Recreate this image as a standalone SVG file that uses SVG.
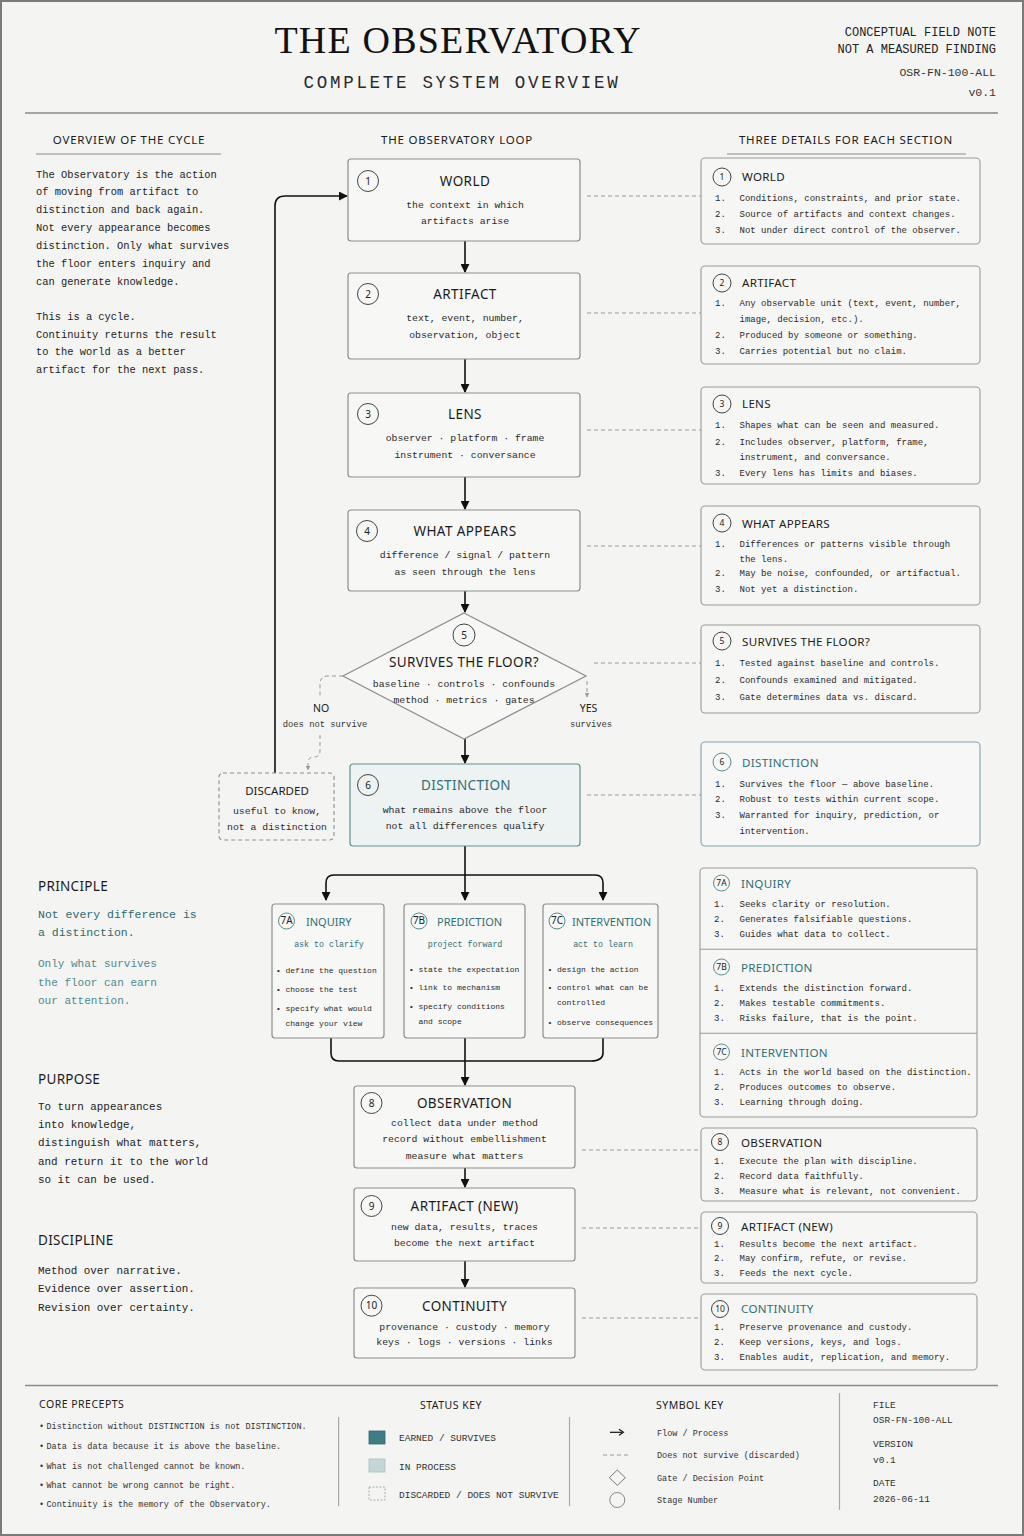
<svg xmlns="http://www.w3.org/2000/svg" width="1024" height="1536" viewBox="0 0 1024 1536">
<defs>
<style>
.sans{font-family:"Noto Sans","DejaVu Sans",sans-serif;}
.mono{font-family:"Liberation Mono","DejaVu Sans Mono",monospace;}
.box{fill:#f7f7f5;stroke:#8d8d8d;stroke-width:1.2;}
.dbox{fill:#edf2f2;stroke:#5f9196;stroke-width:1.2;}
.pbox{fill:#f6f6f4;stroke:#9a9a9a;stroke-width:1.1;}
.ntitle{font-family:"Noto Sans","DejaVu Sans",sans-serif;font-size:13.5px;letter-spacing:0.4px;fill:#1b1b1b;text-anchor:middle;}
.nsub{font-family:"Liberation Mono","DejaVu Sans Mono",monospace;font-size:9.8px;fill:#2a2a2a;text-anchor:middle;}
.ncirc{fill:none;stroke:#444;stroke-width:1;}
.nnum{font-family:"Noto Sans","DejaVu Sans",sans-serif;font-size:10px;fill:#222;text-anchor:middle;}
.ptitle{font-family:"Noto Sans","DejaVu Sans",sans-serif;font-size:11.6px;letter-spacing:0.3px;fill:#1b1b1b;}
.pli{font-family:"Liberation Mono","DejaVu Sans Mono",monospace;font-size:9px;fill:#2a2a2a;}
.pnum{font-family:"Noto Sans","DejaVu Sans",sans-serif;font-size:8.5px;fill:#222;text-anchor:middle;}
.teal{fill:#2f6f76;}
.tealc{fill:none;stroke:#5a8c91;stroke-width:1;}
.flow{fill:none;stroke:#111;stroke-width:1.6;}
.dash{fill:none;stroke:#9a9a9a;stroke-width:1;stroke-dasharray:4 3;}
.body{font-family:"Liberation Mono","DejaVu Sans Mono",monospace;font-size:10.4px;fill:#222;}
.hdr{font-family:"Noto Sans","DejaVu Sans",sans-serif;font-size:11.5px;letter-spacing:0.8px;fill:#1b1b1b;}
.lh{font-family:"Noto Sans","DejaVu Sans",sans-serif;font-size:13.5px;letter-spacing:0.3px;fill:#1b1b1b;}
.lbody{font-family:"Liberation Mono","DejaVu Sans Mono",monospace;font-size:10.9px;fill:#222;}
.b7{font-family:"Liberation Mono","DejaVu Sans Mono",monospace;font-size:8px;fill:#2a2a2a;}
.t7{font-family:"Noto Sans","DejaVu Sans",sans-serif;font-size:11px;fill:#2f6f76;}
.s7{font-family:"Liberation Mono","DejaVu Sans Mono",monospace;font-size:8.3px;fill:#2f6f76;text-anchor:middle;}
.fhdr{font-family:"Noto Sans","DejaVu Sans",sans-serif;font-size:10.5px;letter-spacing:0.5px;fill:#1b1b1b;}
.fsm{font-family:"Liberation Mono","DejaVu Sans Mono",monospace;font-size:8.5px;fill:#333;}
.fkey{font-family:"Liberation Mono","DejaVu Sans Mono",monospace;font-size:9.5px;fill:#333;}
.sep{stroke:#a8a8a8;stroke-width:1.2;}
</style>
<marker id="ah" viewBox="0 0 10 10" refX="9" refY="5" markerWidth="9" markerHeight="9" markerUnits="userSpaceOnUse" orient="auto"><path d="M0,0 L10,5 L0,10 z" fill="#111"/></marker>
<marker id="ahg" viewBox="0 0 10 10" refX="9" refY="5" markerWidth="5" markerHeight="5" markerUnits="userSpaceOnUse" orient="auto"><path d="M0,0 L10,5 L0,10 z" fill="#999"/></marker>
</defs>

<rect x="0" y="0" width="1024" height="1536" fill="#f4f4f2"/>
<rect x="1" y="1" width="1022" height="1534" fill="none" stroke="#7a7a7a" stroke-width="2"/>

<g id="header">
<text x="458" y="53" font-family="Liberation Serif,serif" font-size="38" letter-spacing="1.2" text-anchor="middle" fill="#111">THE OBSERVATORY</text>
<text x="462" y="88" class="mono" font-size="17.5" letter-spacing="2.7" text-anchor="middle" fill="#2a2a2a">COMPLETE SYSTEM OVERVIEW</text>
<text x="996" y="36" class="mono" font-size="12" text-anchor="end" fill="#222">CONCEPTUAL FIELD NOTE</text>
<text x="996" y="53" class="mono" font-size="12" text-anchor="end" fill="#222">NOT A MEASURED FINDING</text>
<text x="996" y="76" class="mono" font-size="11.5" text-anchor="end" fill="#333">OSR-FN-100-ALL</text>
<text x="996" y="96" class="mono" font-size="11.5" text-anchor="end" fill="#333">v0.1</text>
<line x1="25" y1="113" x2="998" y2="113" stroke="#8a8a8a" stroke-width="1.5"/>
<text x="129" y="144" class="hdr" text-anchor="middle">OVERVIEW OF THE CYCLE</text>
<line x1="36" y1="154" x2="221" y2="154" stroke="#8a8a8a" stroke-width="1.2"/>
<text x="457" y="144" class="hdr" text-anchor="middle">THE OBSERVATORY LOOP</text>
<text x="846" y="144" class="hdr" text-anchor="middle">THREE DETAILS FOR EACH SECTION</text>
<line x1="727" y1="154" x2="966" y2="154" stroke="#8a8a8a" stroke-width="1.2"/>
</g>

<g id="overview-text">
<text class="body" x="36" y="177.5">The Observatory is the action</text>
<text class="body" x="36" y="195.2">of moving from artifact to</text>
<text class="body" x="36" y="213">distinction and back again.</text>
<text class="body" x="36" y="231">Not every appearance becomes</text>
<text class="body" x="36" y="249">distinction. Only what survives</text>
<text class="body" x="36" y="267">the floor enters inquiry and</text>
<text class="body" x="36" y="285">can generate knowledge.</text>
<text class="body" x="36" y="320">This is a cycle.</text>
<text class="body" x="36" y="337.5">Continuity returns the result</text>
<text class="body" x="36" y="355">to the world as a better</text>
<text class="body" x="36" y="372.5">artifact for the next pass.</text>
</g>

<g id="left-notes">
<text class="lh" x="38" y="890.5">PRINCIPLE</text>
<text class="mono" x="38" y="917.7" font-size="11.5" fill="#2d6a70">Not every difference is</text>
<text class="mono" x="38" y="936" font-size="11.5" fill="#2d6a70">a distinction.</text>
<text class="mono" x="38" y="967.3" font-size="11" fill="#4d8a90">Only what survives</text>
<text class="mono" x="38" y="985.7" font-size="11" fill="#4d8a90">the floor can earn</text>
<text class="mono" x="38" y="1004" font-size="11" fill="#4d8a90">our attention.</text>
<text class="lh" x="38" y="1083.5">PURPOSE</text>
<text class="lbody" x="38" y="1109.5">To turn appearances</text>
<text class="lbody" x="38" y="1128">into knowledge,</text>
<text class="lbody" x="38" y="1146">distinguish what matters,</text>
<text class="lbody" x="38" y="1164.5">and return it to the world</text>
<text class="lbody" x="38" y="1183">so it can be used.</text>
<text class="lh" x="38" y="1245">DISCIPLINE</text>
<text class="lbody" x="38" y="1274">Method over narrative.</text>
<text class="lbody" x="38" y="1292">Evidence over assertion.</text>
<text class="lbody" x="38" y="1310.5">Revision over certainty.</text>
</g>

<g id="connectors">
<path class="flow" d="M465,241 V272" marker-end="url(#ah)"/>
<path class="flow" d="M465,359 V392" marker-end="url(#ah)"/>
<path class="flow" d="M465,477 V509" marker-end="url(#ah)"/>
<path class="flow" d="M465,591 V612" marker-end="url(#ah)"/>
<path class="flow" d="M465,739 V763" marker-end="url(#ah)"/>
<path class="flow" d="M465,846 V900" marker-end="url(#ah)"/>
<path class="flow" d="M465,875 H334 Q326,875 326,883 V900" marker-end="url(#ah)"/>
<path class="flow" d="M465,875 H595 Q603,875 603,883 V900" marker-end="url(#ah)"/>
<path class="flow" d="M331,1038 V1053 Q331,1061 339,1061 H591 Q603,1061 603,1053 V1038"/>
<path class="flow" d="M465,1038 V1085" marker-end="url(#ah)"/>
<path class="flow" d="M465,1168 V1187" marker-end="url(#ah)"/>
<path class="flow" d="M465,1261 V1287" marker-end="url(#ah)"/>
<path class="flow" d="M275,773 V206 Q275,196 285,196 H347" marker-end="url(#ah)"/>
<path class="dash" d="M343,676 H328 Q320,676 320,684 V697"/>
<path class="dash" d="M320,735 V751 Q320,757 314,757 Q308,757 308,763 V770" marker-end="url(#ahg)"/>
<path class="dash" d="M587,681 V697" marker-end="url(#ahg)"/>
<path class="dash" d="M587,196 H701"/>
<path class="dash" d="M587,313 H701"/>
<path class="dash" d="M587,430 H701"/>
<path class="dash" d="M587,546 H701"/>
<path class="dash" d="M594,663 H701"/>
<path class="dash" d="M587,795 H701"/>
<path class="dash" d="M582,1150 H701"/>
<path class="dash" d="M582,1228 H701"/>
<path class="dash" d="M582,1318 H701"/>
<text class="sans" x="321" y="712" font-size="10.5" text-anchor="middle" fill="#1b1b1b">NO</text>
<text class="mono" x="325" y="726.5" font-size="8.8" text-anchor="middle" fill="#333">does not survive</text>
<text class="sans" x="588.5" y="712" font-size="10.5" text-anchor="middle" fill="#1b1b1b">YES</text>
<text class="mono" x="591" y="726.5" font-size="8.8" text-anchor="middle" fill="#333">survives</text>
</g>

<g id="n1-world">
<rect class="box" x="348" y="159" width="232" height="82" rx="3"/>
<circle class="ncirc" cx="368" cy="181" r="10.5"/><text class="nnum" x="368" y="184.5">1</text>
<text class="ntitle" x="465" y="186">WORLD</text>
<text class="nsub" x="465" y="207.5">the context in which</text>
<text class="nsub" x="465" y="224">artifacts arise</text>
</g>
<g id="n2-artifact">
<rect class="box" x="348" y="273" width="232" height="86" rx="3"/>
<circle class="ncirc" cx="368" cy="294" r="10.5"/><text class="nnum" x="368" y="297.5">2</text>
<text class="ntitle" x="465" y="299">ARTIFACT</text>
<text class="nsub" x="465" y="321">text, event, number,</text>
<text class="nsub" x="465" y="337.5">observation, object</text>
</g>
<g id="n3-lens">
<rect class="box" x="348" y="393" width="232" height="84" rx="3"/>
<circle class="ncirc" cx="368" cy="414" r="10.5"/><text class="nnum" x="368" y="417.5">3</text>
<text class="ntitle" x="465" y="419">LENS</text>
<text class="nsub" x="465" y="441">observer · platform · frame</text>
<text class="nsub" x="465" y="457.5">instrument · conversance</text>
</g>
<g id="n4-what-appears">
<rect class="box" x="348" y="510" width="232" height="81" rx="3"/>
<circle class="ncirc" cx="367" cy="531" r="10.5"/><text class="nnum" x="367" y="534.5">4</text>
<text class="ntitle" x="465" y="536">WHAT APPEARS</text>
<text class="nsub" x="465" y="558">difference / signal / pattern</text>
<text class="nsub" x="465" y="574.5">as seen through the lens</text>
</g>
<g id="n5-gate">
<polygon points="464,613 586,676 464,739 343,676" fill="#f7f7f5" stroke="#8d8d8d" stroke-width="1.2"/>
<circle class="ncirc" cx="464" cy="635" r="11"/><text class="nnum" x="464" y="638.5">5</text>
<text class="ntitle" x="464" y="667" font-size="12.5" letter-spacing="0.8">SURVIVES THE FLOOR?</text>
<text class="nsub" x="464" y="687" font-size="9">baseline · controls · confounds</text>
<text class="nsub" x="464" y="703" font-size="9">method · metrics · gates</text>
</g>
<g id="n6-distinction">
<rect class="dbox" x="350" y="764" width="230" height="82" rx="3"/>
<circle class="ncirc" cx="368" cy="785" r="10.5"/><text class="nnum" x="368" y="788.5">6</text>
<text class="ntitle teal" x="466" y="790">DISTINCTION</text>
<text class="nsub" x="465" y="812.5">what remains above the floor</text>
<text class="nsub" x="465" y="829">not all differences qualify</text>
</g>
<g id="discarded">
<rect x="219" y="773" width="115" height="67" rx="4" fill="#f4f4f2" stroke="#8d8d8d" stroke-width="1.1" stroke-dasharray="4 3"/>
<text class="sans" x="277" y="795" font-size="11.5" text-anchor="middle" fill="#1b1b1b">DISCARDED</text>
<text class="nsub" x="277" y="813.5">useful to know,</text>
<text class="nsub" x="277" y="829.5">not a distinction</text>
</g>

<g id="n7a-inquiry">
<rect class="box" x="272" y="904" width="112" height="134" rx="3"/>
<circle class="tealc" cx="286.5" cy="921" r="8"/><text class="nnum" x="286.5" y="923.6" font-size="7" fill="#2f6f76">7A</text>
<text class="t7" x="306" y="925.5">INQUIRY</text>
<text class="s7" x="329" y="947">ask to clarify</text>
<text class="b7" x="276" y="972.5">•</text><text class="b7" x="285.5" y="972.5">define the question</text>
<text class="b7" x="276" y="991.5">•</text><text class="b7" x="285.5" y="991.5">choose the test</text>
<text class="b7" x="276" y="1011">•</text><text class="b7" x="285.5" y="1011">specify what would</text>
<text class="b7" x="285.5" y="1026">change your view</text>
</g>
<g id="n7b-prediction">
<rect class="box" x="404" y="904" width="121" height="134" rx="3"/>
<circle class="tealc" cx="419" cy="921" r="8"/><text class="nnum" x="419" y="923.6" font-size="7" fill="#2f6f76">7B</text>
<text class="t7" x="437" y="925.5">PREDICTION</text>
<text class="s7" x="465" y="947">project forward</text>
<text class="b7" x="409" y="972">•</text><text class="b7" x="418.5" y="972">state the expectation</text>
<text class="b7" x="409" y="990">•</text><text class="b7" x="418.5" y="990">link to mechanism</text>
<text class="b7" x="409" y="1009">•</text><text class="b7" x="418.5" y="1009">specify conditions</text>
<text class="b7" x="418.5" y="1024">and scope</text>
</g>
<g id="n7c-intervention">
<rect class="box" x="543" y="904" width="115" height="134" rx="3"/>
<circle class="tealc" cx="557" cy="921" r="8"/><text class="nnum" x="557" y="923.6" font-size="7" fill="#2f6f76">7C</text>
<text class="t7" x="572" y="925.5">INTERVENTION</text>
<text class="s7" x="603" y="947">act to learn</text>
<text class="b7" x="547.5" y="972">•</text><text class="b7" x="557" y="972">design the action</text>
<text class="b7" x="547.5" y="990">•</text><text class="b7" x="557" y="990">control what can be</text>
<text class="b7" x="557" y="1005">controlled</text>
<text class="b7" x="547.5" y="1025">•</text><text class="b7" x="557" y="1025">observe consequences</text>
</g>

<g id="n8-observation">
<rect class="box" x="354" y="1086" width="221" height="82" rx="3"/>
<circle class="ncirc" cx="371.5" cy="1103" r="10.5"/><text class="nnum" x="371.5" y="1106.5">8</text>
<text class="ntitle" x="464.5" y="1108">OBSERVATION</text>
<text class="nsub" x="464.5" y="1126" font-size="9.4">collect data under method</text>
<text class="nsub" x="464.5" y="1142" font-size="9.4">record without embellishment</text>
<text class="nsub" x="464.5" y="1158.5" font-size="9.4">measure what matters</text>
</g>
<g id="n9-artifact-new">
<rect class="box" x="354" y="1188" width="221" height="73" rx="3"/>
<circle class="ncirc" cx="371.5" cy="1206" r="10.5"/><text class="nnum" x="371.5" y="1209.5">9</text>
<text class="ntitle" x="464.5" y="1211">ARTIFACT (NEW)</text>
<text class="nsub" x="464.5" y="1230.3" font-size="9.4">new data, results, traces</text>
<text class="nsub" x="464.5" y="1246.3" font-size="9.4">become the next artifact</text>
</g>
<g id="n10-continuity">
<rect class="box" x="354" y="1288" width="221" height="70" rx="3"/>
<circle class="ncirc" cx="371.5" cy="1305.7" r="10.5"/><text class="nnum" x="371.5" y="1309" font-size="9">10</text>
<text class="ntitle" x="464.5" y="1310.7">CONTINUITY</text>
<text class="nsub" x="464.5" y="1330" font-size="9.4">provenance · custody · memory</text>
<text class="nsub" x="464.5" y="1345.3" font-size="9.4">keys · logs · versions · links</text>
</g>

<g id="p1-world">
<rect class="pbox" x="701" y="158" width="279" height="86" rx="4"/>
<circle class="ncirc" cx="722" cy="177" r="9"/><text class="pnum" x="722" y="180">1</text>
<text class="ptitle" x="742" y="181">WORLD</text>
<text class="pli" x="715" y="200.5">1.</text><text class="pli" x="739.5" y="200.5">Conditions, constraints, and prior state.</text>
<text class="pli" x="715" y="216.5">2.</text><text class="pli" x="739.5" y="216.5">Source of artifacts and context changes.</text>
<text class="pli" x="715" y="232.5">3.</text><text class="pli" x="739.5" y="232.5">Not under direct control of the observer.</text>
</g>
<g id="p2-artifact">
<rect class="pbox" x="701" y="266" width="279" height="98" rx="4"/>
<circle class="ncirc" cx="722" cy="283" r="9"/><text class="pnum" x="722" y="286">2</text>
<text class="ptitle" x="742" y="287">ARTIFACT</text>
<text class="pli" x="715" y="306">1.</text><text class="pli" x="739.5" y="306">Any observable unit (text, event, number,</text>
<text class="pli" x="739.5" y="321.5">image, decision, etc.).</text>
<text class="pli" x="715" y="337.5">2.</text><text class="pli" x="739.5" y="337.5">Produced by someone or something.</text>
<text class="pli" x="715" y="354">3.</text><text class="pli" x="739.5" y="354">Carries potential but no claim.</text>
</g>
<g id="p3-lens">
<rect class="pbox" x="701" y="387" width="279" height="97" rx="4"/>
<circle class="ncirc" cx="722" cy="404" r="9"/><text class="pnum" x="722" y="407">3</text>
<text class="ptitle" x="742" y="408">LENS</text>
<text class="pli" x="715" y="428">1.</text><text class="pli" x="739.5" y="428">Shapes what can be seen and measured.</text>
<text class="pli" x="715" y="444.5">2.</text><text class="pli" x="739.5" y="444.5">Includes observer, platform, frame,</text>
<text class="pli" x="739.5" y="460">instrument, and conversance.</text>
<text class="pli" x="715" y="476">3.</text><text class="pli" x="739.5" y="476">Every lens has limits and biases.</text>
</g>
<g id="p4-what-appears">
<rect class="pbox" x="701" y="506" width="279" height="99" rx="4"/>
<circle class="ncirc" cx="722" cy="523" r="9"/><text class="pnum" x="722" y="526">4</text>
<text class="ptitle" x="742" y="527.5">WHAT APPEARS</text>
<text class="pli" x="715" y="546.5">1.</text><text class="pli" x="739.5" y="546.5">Differences or patterns visible through</text>
<text class="pli" x="739.5" y="561.5">the lens.</text>
<text class="pli" x="715" y="576">2.</text><text class="pli" x="739.5" y="576">May be noise, confounded, or artifactual.</text>
<text class="pli" x="715" y="592">3.</text><text class="pli" x="739.5" y="592">Not yet a distinction.</text>
</g>
<g id="p5-survives">
<rect class="pbox" x="701" y="625" width="279" height="88" rx="4"/>
<circle class="ncirc" cx="722" cy="641" r="9"/><text class="pnum" x="722" y="644">5</text>
<text class="ptitle" x="742" y="645.5">SURVIVES THE FLOOR?</text>
<text class="pli" x="715" y="666">1.</text><text class="pli" x="739.5" y="666">Tested against baseline and controls.</text>
<text class="pli" x="715" y="683">2.</text><text class="pli" x="739.5" y="683">Confounds examined and mitigated.</text>
<text class="pli" x="715" y="700">3.</text><text class="pli" x="739.5" y="700">Gate determines data vs. discard.</text>
</g>
<g id="p6-distinction">
<rect x="701" y="742" width="279" height="104" rx="4" fill="#f6f7f6" stroke="#7fa5a9" stroke-width="1.1"/>
<circle class="tealc" cx="722" cy="762" r="9"/><text class="pnum" x="722" y="765" fill="#2f6f76">6</text>
<text class="ptitle teal" x="742" y="766.5">DISTINCTION</text>
<text class="pli" x="715" y="787">1.</text><text class="pli" x="739.5" y="787">Survives the floor — above baseline.</text>
<text class="pli" x="715" y="802">2.</text><text class="pli" x="739.5" y="802">Robust to tests within current scope.</text>
<text class="pli" x="715" y="818">3.</text><text class="pli" x="739.5" y="818">Warranted for inquiry, prediction, or</text>
<text class="pli" x="739.5" y="833.5">intervention.</text>
</g>
<g id="p7-branches">
<rect class="pbox" x="700" y="868" width="277" height="249" rx="4"/>
<line x1="700" y1="949.3" x2="977" y2="949.3" stroke="#9a9a9a" stroke-width="1.1"/>
<line x1="700" y1="1033.3" x2="977" y2="1033.3" stroke="#9a9a9a" stroke-width="1.1"/>
<circle class="tealc" cx="721.5" cy="883" r="8"/><text class="pnum" x="721.5" y="885.6" font-size="7" fill="#2f6f76">7A</text>
<text class="ptitle teal" x="741" y="887.5">INQUIRY</text>
<text class="pli" x="714" y="907">1.</text><text class="pli" x="739.5" y="907">Seeks clarity or resolution.</text>
<text class="pli" x="714" y="922">2.</text><text class="pli" x="739.5" y="922">Generates falsifiable questions.</text>
<text class="pli" x="714" y="937">3.</text><text class="pli" x="739.5" y="937">Guides what data to collect.</text>
<circle class="tealc" cx="721.5" cy="967" r="8"/><text class="pnum" x="721.5" y="969.6" font-size="7" fill="#2f6f76">7B</text>
<text class="ptitle teal" x="741" y="971.5">PREDICTION</text>
<text class="pli" x="714" y="991">1.</text><text class="pli" x="739.5" y="991">Extends the distinction forward.</text>
<text class="pli" x="714" y="1006">2.</text><text class="pli" x="739.5" y="1006">Makes testable commitments.</text>
<text class="pli" x="714" y="1021">3.</text><text class="pli" x="739.5" y="1021">Risks failure, that is the point.</text>
<circle class="tealc" cx="721.5" cy="1052" r="8"/><text class="pnum" x="721.5" y="1054.6" font-size="7" fill="#2f6f76">7C</text>
<text class="ptitle teal" x="741" y="1056.5">INTERVENTION</text>
<text class="pli" x="714" y="1075">1.</text><text class="pli" x="739.5" y="1075">Acts in the world based on the distinction.</text>
<text class="pli" x="714" y="1090">2.</text><text class="pli" x="739.5" y="1090">Produces outcomes to observe.</text>
<text class="pli" x="714" y="1105">3.</text><text class="pli" x="739.5" y="1105">Learning through doing.</text>
</g>
<g id="p8-observation">
<rect class="pbox" x="701" y="1128" width="276" height="73" rx="4"/>
<circle class="ncirc" cx="720" cy="1142" r="8.5"/><text class="pnum" x="720" y="1145">8</text>
<text class="ptitle" x="741" y="1146.5">OBSERVATION</text>
<text class="pli" x="714" y="1164">1.</text><text class="pli" x="739.5" y="1164">Execute the plan with discipline.</text>
<text class="pli" x="714" y="1179">2.</text><text class="pli" x="739.5" y="1179">Record data faithfully.</text>
<text class="pli" x="714" y="1194">3.</text><text class="pli" x="739.5" y="1194">Measure what is relevant, not convenient.</text>
</g>
<g id="p9-artifact-new">
<rect class="pbox" x="701" y="1212" width="276" height="71" rx="4"/>
<circle class="ncirc" cx="720" cy="1226" r="8.5"/><text class="pnum" x="720" y="1229">9</text>
<text class="ptitle" x="741" y="1230.5">ARTIFACT (NEW)</text>
<text class="pli" x="714" y="1246.5">1.</text><text class="pli" x="739.5" y="1246.5">Results become the next artifact.</text>
<text class="pli" x="714" y="1261">2.</text><text class="pli" x="739.5" y="1261">May confirm, refute, or revise.</text>
<text class="pli" x="714" y="1276">3.</text><text class="pli" x="739.5" y="1276">Feeds the next cycle.</text>
</g>
<g id="p10-continuity">
<rect class="pbox" x="701" y="1294" width="276" height="76" rx="4"/>
<circle class="ncirc" cx="720" cy="1309" r="8.5"/><text class="pnum" x="720" y="1311.8" font-size="7.5">10</text>
<text class="ptitle teal" x="741" y="1313">CONTINUITY</text>
<text class="pli" x="714" y="1330">1.</text><text class="pli" x="739.5" y="1330">Preserve provenance and custody.</text>
<text class="pli" x="714" y="1345">2.</text><text class="pli" x="739.5" y="1345">Keep versions, keys, and logs.</text>
<text class="pli" x="714" y="1360">3.</text><text class="pli" x="739.5" y="1360">Enables audit, replication, and memory.</text>
</g>

<g id="footer">
<line x1="25" y1="1385.5" x2="998" y2="1385.5" stroke="#8a8a8a" stroke-width="1.5"/>
<text class="fhdr" x="39" y="1408">CORE PRECEPTS</text>
<text class="fsm" x="39" y="1428.7">•</text><text class="fsm" x="46.5" y="1428.7">Distinction without DISTINCTION is not DISTINCTION.</text>
<text class="fsm" x="39" y="1448.7">•</text><text class="fsm" x="46.5" y="1448.7">Data is data because it is above the baseline.</text>
<text class="fsm" x="39" y="1468.7">•</text><text class="fsm" x="46.5" y="1468.7">What is not challenged cannot be known.</text>
<text class="fsm" x="39" y="1488">•</text><text class="fsm" x="46.5" y="1488">What cannot be wrong cannot be right.</text>
<text class="fsm" x="39" y="1506.7">•</text><text class="fsm" x="46.5" y="1506.7">Continuity is the memory of the Observatory.</text>
<line class="sep" x1="338.6" y1="1417" x2="338.6" y2="1506"/>
<text class="fhdr" x="451" y="1409" text-anchor="middle">STATUS KEY</text>
<rect x="369" y="1431" width="16" height="13" fill="#3f7d84" stroke="#2f6a70" stroke-width="0.8"/>
<text class="fkey" x="399" y="1441">EARNED / SURVIVES</text>
<rect x="369" y="1459" width="16" height="13" fill="#c3d7d8" stroke="#a9c0c2" stroke-width="0.8"/>
<text class="fkey" x="399" y="1470">IN PROCESS</text>
<rect x="369" y="1487" width="16" height="13" fill="none" stroke="#999" stroke-width="0.8" stroke-dasharray="2 1.5"/>
<text class="fkey" x="399" y="1497.6">DISCARDED / DOES NOT SURVIVE</text>
<line class="sep" x1="569.5" y1="1417" x2="569.5" y2="1506"/>
<text class="fhdr" x="656" y="1409">SYMBOL KEY</text>
<path d="M610,1432.3 H622" stroke="#111" stroke-width="1.2" fill="none"/>
<path d="M619,1429.3 L623.5,1432.3 L619,1435.3" stroke="#111" stroke-width="1.1" fill="none"/>
<text class="fsm" x="657" y="1435.5" font-size="8.8">Flow / Process</text>
<path d="M603,1455 H630" class="dash"/>
<text class="fsm" x="657" y="1458">Does not survive (discarded)</text>
<polygon points="617.3,1470 625.3,1477.7 617.3,1485.4 609.3,1477.7" fill="none" stroke="#777" stroke-width="1"/>
<text class="fsm" x="657" y="1481">Gate / Decision Point</text>
<circle cx="617.3" cy="1500" r="7.5" fill="none" stroke="#888" stroke-width="1"/>
<text class="fsm" x="657" y="1503">Stage Number</text>
<line class="sep" x1="839.5" y1="1393" x2="839.5" y2="1510"/>
<text class="fkey" x="873" y="1407.5" fill="#444">FILE</text>
<text class="fkey" x="873" y="1422.5" fill="#444">OSR-FN-100-ALL</text>
<text class="fkey" x="873" y="1446.8" fill="#444">VERSION</text>
<text class="fkey" x="873" y="1462.5" fill="#444">v0.1</text>
<text class="fkey" x="873" y="1486" fill="#444">DATE</text>
<text class="fkey" x="873" y="1501.8" fill="#444">2026-06-11</text>
</g>
</svg>
